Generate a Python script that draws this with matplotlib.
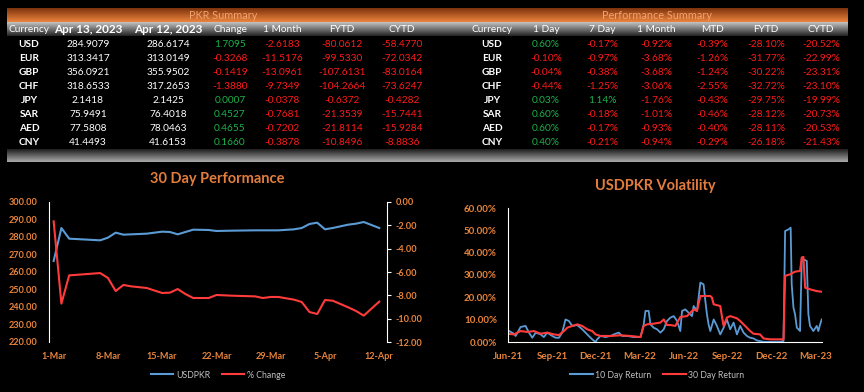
import numpy as np
import matplotlib.pyplot as plt
import matplotlib.dates as mdates
from matplotlib.ticker import FormatStrFormatter, FuncFormatter, FixedLocator
from matplotlib.lines import Line2D
from datetime import datetime

plt.rcParams['font.family'] = ['Lato', 'DejaVu Sans']
plt.rcParams['axes.unicode_minus'] = False

# ---- table data ----
currencies = ['USD', 'EUR', 'GBP', 'CHF', 'JPY', 'SAR', 'AED', 'CNY']
apr13 = [284.9079, 313.3417, 356.0921, 318.6533, 2.1418, 75.9491, 77.5808, 41.4493]
apr12 = [286.6174, 313.0149, 355.9502, 317.2653, 2.1425, 76.4018, 78.0463, 41.6153]
change = [1.7095, -0.3268, -0.1419, -1.3880, 0.0007, 0.4527, 0.4655, 0.1660]
one_month = [-2.6183, -11.5176, -13.0961, -9.7349, -0.0378, -0.7681, -0.7202, -0.3878]
fytd = [-80.0612, -99.5330, -107.6131, -104.2664, -0.6372, -21.3539, -21.8114, -10.8496]
cytd = [-58.4770, -72.0342, -83.0164, -73.6247, -0.4282, -15.7441, -15.9284, -8.8836]

perf_1d = [0.60, -0.10, -0.04, -0.44, 0.03, 0.60, 0.60, 0.40]
perf_7d = [-0.17, -0.97, -0.38, -1.25, 1.14, -0.18, -0.17, -0.21]
perf_1m = [-0.92, -3.68, -3.68, -3.06, -1.76, -1.01, -0.93, -0.94]
perf_mtd = [-0.39, -1.26, -1.24, -2.55, -0.43, -0.46, -0.40, -0.29]
perf_fytd = [-28.10, -31.77, -30.22, -32.72, -29.75, -28.12, -28.11, -26.18]
perf_cytd = [-20.52, -22.99, -23.31, -23.10, -19.99, -20.73, -20.53, -21.43]

# ---- 30 day performance ----
perf_dates = ['2023-03-01', '2023-03-02', '2023-03-03', '2023-03-07', '2023-03-08',
              '2023-03-09', '2023-03-10', '2023-03-11', '2023-03-13', '2023-03-15',
              '2023-03-16', '2023-03-17', '2023-03-18', '2023-03-19', '2023-03-21',
              '2023-03-22', '2023-03-24', '2023-03-27', '2023-03-28', '2023-03-29',
              '2023-03-30', '2023-04-01', '2023-04-02', '2023-04-03', '2023-04-04',
              '2023-04-05', '2023-04-06', '2023-04-08', '2023-04-09', '2023-04-10',
              '2023-04-12']
usdpkr = [266.29, 285.14, 279.05, 278.10, 279.62, 282.48, 281.33, 281.52, 281.90, 283.05,
          282.86, 281.52, 282.86, 284.19, 284.00, 283.43, 283.62, 283.81, 283.81, 283.81,
          283.81, 284.38, 285.14, 287.43, 288.19, 284.38, 285.14, 287.05, 287.62, 288.57,
          285.14]
pct_change = [-1.66, -8.71, -6.29, -6.09, -6.51, -7.63, -7.11, -7.23, -7.37, -7.80,
              -7.77, -7.46, -7.89, -8.23, -8.23, -7.97, -8.03, -8.09, -8.23, -8.14,
              -8.14, -8.37, -8.57, -9.43, -9.60, -8.40, -8.46, -9.03, -9.34, -9.74,
              -8.54]

# ---- volatility (x = months since Jun-21) ----
vol10_m = [0.00, 0.41, 0.52, 0.86, 1.20, 1.43, 1.66, 1.89, 2.23, 2.45, 2.68, 3.02, 3.25,
           3.48, 3.70, 3.93, 4.16, 4.39, 4.73, 5.07, 5.41, 5.75, 5.98, 6.09, 6.32, 6.66,
           7.00, 7.34, 7.57, 7.80, 8.14, 8.59, 9.05, 9.27, 9.39, 9.61, 9.73, 9.95, 10.18,
           10.41, 10.64, 10.86, 11.09, 11.32, 11.55, 11.77, 11.89, 12.11, 12.34, 12.57,
           12.68, 12.91, 13.02, 13.14, 13.36, 13.48, 13.59, 13.70, 13.82, 14.05, 14.27,
           14.50, 14.73, 14.95, 15.18, 15.41, 15.64, 15.86, 16.09, 16.32, 16.54, 16.77,
           17.00, 17.45, 17.90, 18.59, 18.82, 18.93, 19.16, 19.31, 19.38, 19.50, 19.61,
           19.73, 19.84, 19.95, 20.07, 20.18, 20.41, 20.52, 20.63, 20.86, 21.09, 21.20,
           21.32, 21.43]
vol10 = [5.2, 3.7, 2.7, 6.7, 7.2, 4.2, 1.9, 4.2, 3.4, 2.2, 4.2, 2.7, 1.9,
         1.9, 4.2, 10.1, 9.4, 7.2, 7.6, 5.7, 3.4, 1.2, 0.0, 1.2, 2.7, 2.2,
         2.7, 3.7, 4.2, 2.7, 2.7, 2.2, 2.2, 7.9, 13.9, 13.9, 7.9, 6.4, 5.7,
         4.2, 5.7, 9.4, 10.9, 11.6, 9.4, 4.9, 13.9, 14.6, 13.1, 11.6,
         16.1, 13.9, 19.9, 26.6, 25.8, 18.4, 12.4, 7.9, 4.9, 10.1, 7.2,
         3.4, 6.4, 10.1, 5.7, 8.7, 3.4, 7.2, 4.2, 2.7, 1.9, 1.6,
         0.7, 0.1, 0.1, 0.1, 0.4, 49.7, 50.4, 51.2, 25.8, 15.4, 12.4,
         6.4, 5.7, 4.9, 37.8, 37.0, 36.3, 12.4, 7.2, 4.9, 7.2, 4.9,
         7.9, 10.1]
vol30_m = [0.00, 0.41, 0.86, 1.32, 1.77, 2.23, 2.68, 3.14, 3.48, 3.82, 4.05, 4.39, 4.73,
           5.07, 5.41, 5.75, 5.98, 6.32, 7.00, 7.68, 8.36, 9.05, 9.27, 9.50, 9.95, 10.41,
           10.64, 10.86, 11.09, 11.43, 11.77, 12.23, 12.45, 12.68, 12.91, 13.14, 13.82,
           13.93, 14.05, 14.50, 14.61, 14.73, 14.95, 15.18, 15.64, 15.86, 16.09, 16.32,
           16.54, 16.77, 17.22, 17.45, 17.90, 18.82, 18.93, 19.27, 19.61, 19.95, 20.07,
           20.18, 20.30, 20.63, 21.09, 21.43]
vol30 = [3.7, 3.4, 4.9, 4.5, 4.9, 3.7, 4.2, 3.4, 3.1, 4.9, 6.4, 7.2, 7.9,
         7.2, 5.7, 4.9, 3.4, 2.7, 2.7, 3.0, 2.7, 2.2, 7.2, 7.9, 8.2, 8.7,
         10.1, 7.6, 7.6, 7.2, 11.2, 11.6, 13.1, 14.6, 13.9, 20.6, 20.6,
         19.9, 16.9, 16.1, 11.6, 7.2, 10.9, 11.6, 10.6, 9.4, 7.9, 6.4,
         4.9, 3.7, 3.4, 1.6, 1.2, 1.2, 29.6, 30.3, 31.5, 31.8, 37.8,
         38.1, 24.3, 23.6, 22.8, 22.5]
vol_ticks = ['Jun-21', 'Sep-21', 'Dec-21', 'Mar-22', 'Jun-22', 'Sep-22', 'Dec-22', 'Mar-23']

ORANGE = '#E8843C'
TITLE = '#E27D3E'
BLUE = '#5B9BD5'
RED = '#FF3B3B'
GREEN = '#1DB14B'
VRED = '#FF1A1A'
FS = 7.3  # table font size

W, H = 864, 392
fig = plt.figure(figsize=(W / 100, H / 100), dpi=100, facecolor='black')
bg = fig.add_axes([0, 0, 1, 1])
bg.set_facecolor('black')


def grad_bar(x0, x1, y0, y1, top, bottom):
    t = np.linspace(0, 1, 40)[:, None]
    img = (np.array(top)[None, :] * (1 - t) + np.array(bottom)[None, :] * t) / 255.0
    img = np.repeat(img[:, None, :], 2, axis=1)
    bg.imshow(img, extent=(x0, x1, y1, y0), aspect='auto', interpolation='bilinear')


# header bars
grad_bar(7, 848, 8, 22, (125, 50, 12), (236, 132, 62))
grad_bar(7, 848, 22, 36, (195, 195, 195), (35, 35, 35))
grad_bar(7, 848, 149, 162, (30, 30, 30), (170, 170, 170))
bg.set_xlim(0, W)
bg.set_ylim(H, 0)
bg.axis('off')

bg.text(223, 15.5, 'PKR Summary', color='#F2A36E', fontsize=7.8, ha='center', va='center')
bg.text(657, 15.5, 'Performance Summary', color='#F2A36E', fontsize=7.8, ha='center', va='center')

# left table
left_cols = [29, 88, 168, 230, 282, 342, 402]
left_heads = ['Currency', 'Apr 13, 2023', 'Apr 12, 2023', 'Change', '1 Month', 'FYTD', 'CYTD']
for i, (cx, h) in enumerate(zip(left_cols, left_heads)):
    if i in (1, 2):
        bg.text(cx, 29.5, h, color='white', fontsize=8.5, fontweight='bold', ha='center', va='center')
    else:
        bg.text(cx, 29.5, h, color='white', fontsize=FS, ha='center', va='center')

row_y = [44, 58.5, 72.5, 86.5, 100.5, 114, 128, 142]


def sign_color(v):
    return GREEN if v > 0 else VRED


for r, cy in enumerate(row_y):
    bg.text(left_cols[0], cy, currencies[r], color='white', fontsize=FS, fontweight='bold',
            ha='center', va='center')
    bg.text(left_cols[1], cy, '%.4f' % apr13[r], color='white', fontsize=FS, ha='center', va='center')
    bg.text(left_cols[2], cy, '%.4f' % apr12[r], color='white', fontsize=FS, ha='center', va='center')
    for cx, col in zip(left_cols[3:], [change, one_month, fytd, cytd]):
        bg.text(cx, cy, '%.4f' % col[r], color=sign_color(col[r]), fontsize=FS,
                ha='center', va='center')

# right table
right_cols = [492, 546, 602, 656, 712, 766, 821]
right_heads = ['Currency', '1 Day', '7 Day', '1 Month', 'MTD', 'FYTD', 'CYTD']
for cx, h in zip(right_cols, right_heads):
    bg.text(cx, 29.5, h, color='white', fontsize=FS, ha='center', va='center')

for r, cy in enumerate(row_y):
    bg.text(right_cols[0], cy, currencies[r], color='white', fontsize=FS, fontweight='bold',
            ha='center', va='center')
    for cx, col in zip(right_cols[1:], [perf_1d, perf_7d, perf_1m, perf_mtd, perf_fytd, perf_cytd]):
        bg.text(cx, cy, '%.2f%%' % col[r], color=sign_color(col[r]), fontsize=FS,
                ha='center', va='center')

# ---- 30 Day Performance chart ----
dates = [datetime.strptime(d, '%Y-%m-%d') for d in perf_dates]
ax1 = fig.add_axes([49 / W, (H - 342) / H, 338 / W, 140 / H])
ax1.set_facecolor('none')
ax1.plot(dates, usdpkr, color=BLUE, lw=1.5)
ax1.set_ylim(220, 300)
ax1.set_yticks(np.arange(220, 301, 10))
ax1.yaxis.set_major_formatter(FormatStrFormatter('%.2f'))
start = mdates.date2num(datetime(2023, 3, 1))
ax1.set_xlim(start - 0.6, start + 43.0)
ax1.xaxis.set_major_locator(FixedLocator([start + 7 * k for k in range(7)]))
ax1.xaxis.set_major_formatter(FuncFormatter(
    lambda x, p: '%d-%s' % (mdates.num2date(x).day, mdates.num2date(x).strftime('%b'))))

ax2 = ax1.twinx()
ax2.plot(dates, pct_change, color=RED, lw=1.5)
ax2.set_ylim(-12, 0)
ax2.set_yticks(np.arange(-12, 0.1, 2))
ax2.yaxis.set_major_formatter(FormatStrFormatter('%.2f'))

for a in (ax1, ax2):
    for s in ['top', 'bottom', 'left', 'right']:
        a.spines[s].set_visible(False)
ax1.spines['left'].set_visible(True)
ax1.spines['left'].set_color('white')
ax2.spines['right'].set_visible(True)
ax2.spines['right'].set_color('white')
ax1.tick_params(axis='y', length=0, pad=8, labelsize=6.6, labelcolor=ORANGE)
ax1.tick_params(axis='x', length=0, pad=7, labelsize=6.6, labelcolor=ORANGE)
ax2.tick_params(axis='y', length=3, color='white', pad=3, labelsize=6.6, labelcolor=ORANGE)
for lab in ax1.get_yticklabels() + ax1.get_xticklabels() + ax2.get_yticklabels():
    lab.set_fontweight('bold')

fig.text(217 / W, 1 - 179 / H, '30 Day Performance', color=TITLE, fontsize=10.5,
         fontweight='bold', ha='center', va='center')
h1 = [Line2D([], [], color=BLUE, lw=1.5), Line2D([], [], color=RED, lw=1.5)]
fig.legend(h1, ['USDPKR', '% Change'], loc='center', bbox_to_anchor=(218 / W, 1 - 375 / H),
           ncol=2, frameon=False, fontsize=6.3, labelcolor='#BFBFBF', handlelength=2.6,
           handletextpad=0.3, columnspacing=1.3)

# ---- USDPKR Volatility chart ----
ax3 = fig.add_axes([508 / W, (H - 342) / H, 314 / W, 134 / H])
ax3.set_facecolor('none')
ax3.plot(vol10_m, vol10, color=BLUE, lw=1.3)
ax3.plot(vol30_m, vol30, color=RED, lw=1.5)
ax3.set_xlim(0, 21.45)
ax3.set_ylim(0, 60)
ax3.set_yticks(np.arange(0, 61, 10))
ax3.yaxis.set_major_formatter(FuncFormatter(lambda v, p: '%.2f%%' % v))
ax3.set_xticks(np.arange(0, 22, 3))
ax3.set_xticklabels(vol_ticks)
for s in ['top', 'right']:
    ax3.spines[s].set_visible(False)
ax3.spines['left'].set_color('white')
ax3.spines['bottom'].set_color('white')
ax3.tick_params(axis='y', length=0, pad=8, labelsize=7, labelcolor=ORANGE)
ax3.tick_params(axis='x', length=0, pad=7, labelsize=7, labelcolor=ORANGE)
for lab in ax3.get_yticklabels() + ax3.get_xticklabels():
    lab.set_fontweight('bold')

fig.text(655 / W, 1 - 186 / H, 'USDPKR Volatility', color=TITLE, fontsize=10.5,
         fontweight='bold', ha='center', va='center')
h2 = [Line2D([], [], color=BLUE, lw=1.5), Line2D([], [], color=RED, lw=1.5)]
fig.legend(h2, ['10 Day Return', '30 Day Return'], loc='center',
           bbox_to_anchor=(657 / W, 1 - 375 / H), ncol=2, frameon=False, fontsize=6.3,
           labelcolor='#BFBFBF', handlelength=2.6, handletextpad=0.3, columnspacing=1.3)

fig.savefig('out.png', dpi=100, facecolor='black')
